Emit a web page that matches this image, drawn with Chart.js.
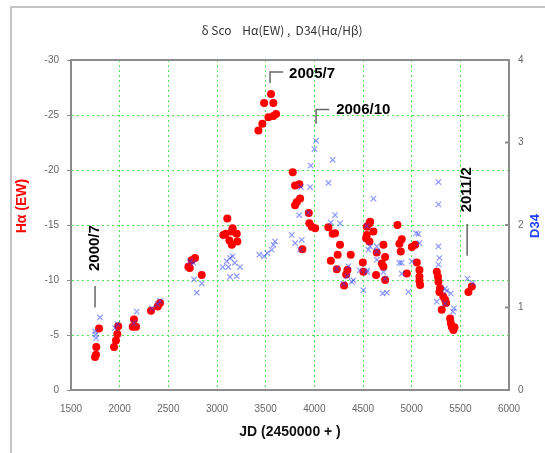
<!DOCTYPE html>
<html>
<head>
<meta charset="utf-8">
<script src="https://cdn.jsdelivr.net/npm/chart.js@4.4.1/dist/chart.umd.min.js"></script>
<style>
  html, body { margin: 0; padding: 0; background: #fff; }
  #wrap { position: relative; width: 545px; height: 453px; overflow: hidden; }
  #frame { position: absolute; left: 10px; top: 6px; width: 700px; height: 700px;
           border-top: 2px solid #c4c4c4; border-left: 2px solid #c4c4c4; }
  canvas { position: absolute; left: 0; top: 0; }
</style>
</head>
<body>
<div id="wrap"><div id="frame"></div><canvas id="grafico" width="545" height="453"></canvas></div>
<script>
// H-alpha equivalent width (red dots, left axis)
const haJD = [1747, 1757, 1760, 1788, 1942, 1962, 1976, 1985, 2134, 2168, 2147, 2322, 2391, 2415,
  2706, 2720, 2740, 2774, 2843, 3106, 3065, 3152, 3203, 3160, 3127, 3152, 3209, 3090,
  3555, 3484, 3579, 3528, 3579, 3607, 3466, 3425,
  3778, 3802, 3846, 3854, 3820, 3802, 3949, 3943, 3973, 4008, 3877,
  4144, 4189, 4213, 4264, 4240, 4374, 4169, 4231, 4340, 4327, 4306, 4498, 4504,
  4566, 4539, 4607, 4532, 4566, 4641, 4710, 4727, 4693, 4710, 4727, 4634, 4573, 4539,
  4854, 4898, 4874, 4888, 4950, 5002, 5036, 5053, 5080, 5080, 5080, 5087,
  5258, 5270, 5275, 5292, 5285, 5325, 5343, 5309, 5354, 5395, 5402, 5412, 5429, 5440,
  5583, 5618];
const haEW = [-3.0, -3.2, -3.9, -5.6, -3.9, -4.5, -5.1, -5.8, -5.75, -5.75, -6.4, -7.2, -7.6, -7.9,
  -11.2, -11.1, -11.8, -12.0, -10.45, -15.6, -14.1, -14.4, -14.2, -14.7, -13.6, -13.2, -13.5, -14.2,
  -26.9, -26.1, -26.1, -24.8, -24.9, -25.1, -24.2, -23.6,
  -19.8, -18.6, -18.7, -17.4, -17.1, -16.8, -15.15, -16.1, -14.85, -14.7, -12.8,
  -14.8, -14.2, -14.25, -13.2, -12.3, -12.3, -11.75, -10.97, -10.9, -10.5, -9.5, -11.6, -10.75,
  -15.15, -14.85, -14.4, -13.8, -13.5, -12.5, -13.2, -12.1, -11.5, -11.2, -10.0, -10.45, -15.3, -14.1,
  -15.0, -13.7, -13.3, -12.6, -10.6, -13.0, -13.2, -11.6, -10.9, -10.3, -9.9, -9.55,
  -10.75, -10.3, -9.85, -9.25, -8.9, -8.5, -8.2, -7.3, -7.9, -6.5, -6.1, -5.75, -5.45, -5.7,
  -8.9, -9.4];

// D34 (blue crosses, right axis)
const d34JD = [1747, 1757, 1752, 1798, 1952, 1976, 2147, 2175, 2329, 2387, 2415,
  2757, 2722, 2764, 2843, 2792, 3134, 3100, 3059, 3182, 3237, 3134, 3203, 3117, 3160,
  3435, 3483, 3517, 3562, 3597, 3580, 3768, 3802, 3854, 3871,
  4018, 4001, 3963, 4189, 4145, 3956, 3861, 3845, 3938, 4213, 4169, 4264,
  4607, 4539, 4573, 4641, 4539, 4504, 4710, 4727, 4702, 4744,
  4556, 4642, 4642, 4545, 4401, 4299, 4350, 4231, 4385, 4340, 4467,
  4874, 4898, 4898, 4966, 5002, 5046, 5070, 5080,
  5275, 5275, 5275, 5285, 5275, 5344, 5360, 5402, 5258, 5344, 5435, 5425, 5573, 5628];
const d34Val = [0.71, 0.63, 0.67, 0.88, 0.75, 0.80, 0.81, 0.95, 0.99, 1.04, 1.08,
  1.54, 1.56, 1.34, 1.29, 1.18, 1.60, 1.56, 1.49, 1.54, 1.49, 1.37, 1.38, 1.49, 1.62,
  1.64, 1.62, 1.66, 1.70, 1.80, 1.76, 1.88, 1.78, 1.70, 1.82,
  3.02, 2.92, 2.72, 2.79, 2.51, 2.46, 2.46, 2.12, 2.15, 2.12, 2.03, 2.02,
  2.32, 1.99, 1.74, 1.74, 1.43, 1.21, 1.43, 1.35, 1.17, 1.18,
  1.70, 1.68, 1.58, 1.45, 1.33, 1.29, 1.50, 1.47, 1.31, 1.38, 1.45,
  1.54, 1.54, 1.41, 1.19, 1.56, 1.90, 1.89, 1.78,
  2.52, 2.25, 1.74, 1.60, 1.52, 1.23, 1.20, 1.17, 1.07, 1.05, 0.99, 0.95, 1.35, 1.30];

const titulo = 'δ Sco    Hα(EW) ,  D34(Hα/Hβ)';
const tituloIzq = 'Hα (EW)';
const tituloDer = 'D34';

// Date markers, placed in data coordinates
const marcas = [
  { text: '2000/7', x: 1747, y: -12.9, rot: true, line: [[1747, -9.45], [1747, -7.5]] },
  { text: '2005/7', x: 3741, y: -28.7, rot: false, line: [[3545, -27.9], [3545, -28.9], [3679, -28.9]] },
  { text: '2006/10', x: 4224, y: -25.45, rot: false, line: [[4018, -24.2], [4018, -25.5], [4152, -25.5]] },
  { text: '2011/2', x: 5570, y: -18.2, rot: true, line: [[5570, -15.1], [5570, -12.2]] }
];

const GRIS = '#8c8c8c';
const VERDE = 'rgba(70,230,70,0.95)';
const FAMILIA = '"Liberation Sans", Arial, sans-serif';

function textoVertical(ctx, txt, x, y) {
  ctx.save();
  ctx.translate(x, y);
  ctx.rotate(-Math.PI / 2);
  ctx.textAlign = 'center';
  ctx.textBaseline = 'middle';
  ctx.fillText(txt, 0, 0);
  ctx.restore();
}

const extras = {
  id: 'extras',
  afterDraw(chart) {
    const ctx = chart.ctx;
    const a = chart.chartArea;
    const sx = chart.scales.x, sy = chart.scales.y, sy1 = chart.scales.y1;
    ctx.save();
    // top edge of the plot box
    ctx.strokeStyle = GRIS;
    ctx.lineWidth = 2;
    ctx.beginPath();
    ctx.moveTo(a.left, a.top);
    ctx.lineTo(a.right, a.top);
    ctx.stroke();
    // inner ticks on the right axis
    [1, 2, 3].forEach(v => {
      const yy = sy1.getPixelForValue(v);
      ctx.beginPath();
      ctx.moveTo(a.right - 4, yy);
      ctx.lineTo(a.right, yy);
      ctx.stroke();
    });
    // title
    ctx.fillStyle = '#333';
    ctx.font = '12px "Noto Sans CJK JP", sans-serif';
    ctx.textAlign = 'center';
    ctx.textBaseline = 'middle';
    ctx.fillText(titulo, (a.left + a.right) / 2 - 8, 30);
    // axis titles (both read bottom to top)
    ctx.font = 'bold 14px ' + FAMILIA;
    ctx.fillStyle = '#ff0000';
    textoVertical(ctx, tituloIzq, 22, 206);
    ctx.font = 'bold 13px ' + FAMILIA;
    ctx.fillStyle = '#2040ff';
    textoVertical(ctx, tituloDer, 535, 226);
    // markers
    marcas.forEach(m => {
      ctx.strokeStyle = '#666';
      ctx.lineWidth = 1.5;
      ctx.beginPath();
      m.line.forEach((p, i) => {
        const px = sx.getPixelForValue(p[0]), py = sy.getPixelForValue(p[1]);
        if (i === 0) ctx.moveTo(px, py); else ctx.lineTo(px, py);
      });
      ctx.stroke();
      ctx.fillStyle = '#000';
      ctx.font = 'bold 15px ' + FAMILIA;
      const tx = sx.getPixelForValue(m.x), ty = sy.getPixelForValue(m.y);
      if (m.rot) {
        textoVertical(ctx, m.text, tx, ty);
      } else {
        ctx.textAlign = 'left';
        ctx.textBaseline = 'middle';
        ctx.fillText(m.text, tx, ty);
      }
    });
    ctx.restore();
  }
};

const fuenteTick = { family: FAMILIA, size: 10 };

new Chart(document.getElementById('grafico'), {
  type: 'scatter',
  data: {
    datasets: [
      {
        label: 'Hα(EW)',
        data: haJD.map((x, i) => ({ x: x, y: haEW[i] })),
        yAxisID: 'y',
        pointStyle: 'circle',
        pointRadius: 4,
        backgroundColor: '#ff0000',
        borderWidth: 0,
        order: 2
      },
      {
        label: 'D34',
        data: d34JD.map((x, i) => ({ x: x, y: d34Val[i] })),
        yAxisID: 'y1',
        pointStyle: 'crossRot',
        pointRadius: 3.8,
        borderColor: 'rgba(50,70,255,0.55)',
        backgroundColor: 'rgba(50,70,255,0.55)',
        borderWidth: 1.2,
        order: 1
      }
    ]
  },
  options: {
    responsive: false,
    animation: false,
    layout: { padding: { top: 60, left: 0, right: 0, bottom: 0 } },
    plugins: { legend: { display: false }, tooltip: { enabled: false } },
    scales: {
      x: {
        type: 'linear', min: 1500, max: 6000,
        ticks: { stepSize: 500, color: '#666', font: fuenteTick, padding: 13, maxRotation: 0,
                 callback: v => String(v) },
        grid: { color: VERDE, lineWidth: 1, drawTicks: false },
        border: { color: GRIS, width: 2, dash: [2, 3] },
        title: { display: true, text: 'JD (2450000 + )', color: '#111',
                 font: { family: FAMILIA, size: 14, weight: 'bold' },
                 padding: { top: 0, bottom: 12 } },
        afterFit: s => { s.height = 63; }
      },
      y: {
        position: 'left', min: -30, max: 0, reverse: true,
        ticks: { stepSize: 5, color: '#666', font: fuenteTick, padding: 8, callback: v => String(v) },
        grid: { color: VERDE, lineWidth: 1, tickColor: GRIS, tickLength: 4, tickBorderDash: [] },
        border: { color: GRIS, width: 2, dash: [2, 3] },
        afterFit: s => { s.width = 71; }
      },
      y1: {
        position: 'right', min: 0, max: 4,
        ticks: { stepSize: 1, color: '#666', font: fuenteTick, padding: 9, callback: v => String(v) },
        grid: { drawOnChartArea: false, drawTicks: false },
        border: { color: GRIS, width: 2 },
        afterFit: s => { s.width = 36; }
      }
    }
  },
  plugins: [extras]
});
</script>
</body>
</html>
